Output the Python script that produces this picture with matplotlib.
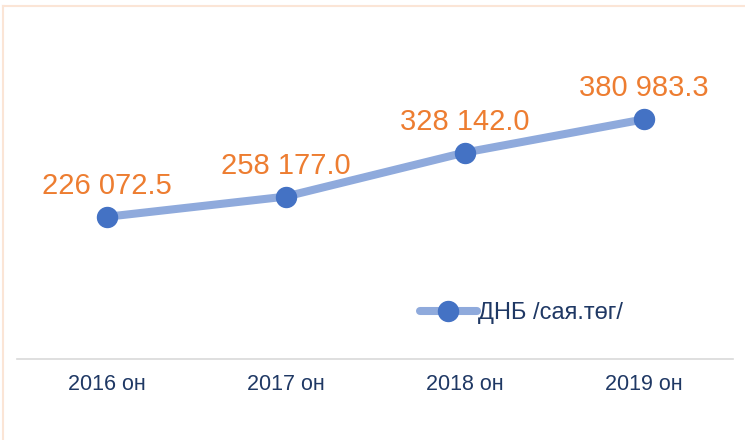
"""
Annual GDP line chart (ДНБ, million tögrög), 2016-2019.
"""

import matplotlib
matplotlib.use("Agg")
import matplotlib.pyplot as plt
from matplotlib.lines import Line2D

# Data
years = ["2016 он", "2017 он", "2018 он", "2019 он"]
gdp = [226072.5, 258177.0, 328142.0, 380983.3]
series_name = "ДНБ /сая.төг/"

# Colours
LINE_COLOR = "#8FAADC"
MARKER_COLOR = "#4472C4"
LABEL_COLOR = "#ED7D31"
TEXT_COLOR = "#1F3864"
AXIS_COLOR = "#D9D9D9"
BORDER_COLOR = "#FBE5D6"

plt.rcParams["font.family"] = ["Liberation Sans", "DejaVu Sans"]

W, H = 745, 440
fig = plt.figure(figsize=(W / 100, H / 100), dpi=100)
ax = fig.add_axes([17 / W, (H - 359) / H, 716 / W, 283 / H])

x = list(range(len(years)))
ax.plot(x, gdp, color=LINE_COLOR, linewidth=5.8, solid_capstyle="round",
        marker="o", markersize=14.4, markerfacecolor=MARKER_COLOR,
        markeredgecolor=MARKER_COLOR, label=series_name, zorder=3)

# Data labels
for xi, val in zip(x, gdp):
    txt = f"{val:,.1f}".replace(",", " ")
    ax.annotate(txt, (xi, val), xytext=(0, 16.5), textcoords="offset points",
                ha="center", va="baseline", fontsize=21, color=LABEL_COLOR)

ax.set_xlim(-0.5, len(years) - 0.5)
ax.set_ylim(0, 450000)
ax.set_xticks(x)
ax.set_xticklabels(years, fontsize=15.5, color=TEXT_COLOR)
ax.tick_params(axis="x", length=0, pad=11)
ax.set_yticks([])

for side in ["top", "right", "left"]:
    ax.spines[side].set_visible(False)
ax.spines["bottom"].set_color(AXIS_COLOR)
ax.spines["bottom"].set_linewidth(1.2)

leg = ax.legend(loc="center left", bbox_to_anchor=(420 / W, (H - 313) / H),
                bbox_transform=fig.transFigure, frameon=False, fontsize=17,
                handlelength=2.4, handletextpad=0.05, borderpad=0,
                borderaxespad=0, labelcolor=TEXT_COLOR)

# Light border along top and left edges
fig.add_artist(Line2D([3 / W, 1], [1 - 6 / H, 1 - 6 / H], color=BORDER_COLOR,
                      linewidth=1.5, transform=fig.transFigure))
fig.add_artist(Line2D([3 / W, 3 / W], [0, 1 - 6 / H], color=BORDER_COLOR,
                      linewidth=1.5, transform=fig.transFigure))

fig.savefig("out.png", dpi=100)
